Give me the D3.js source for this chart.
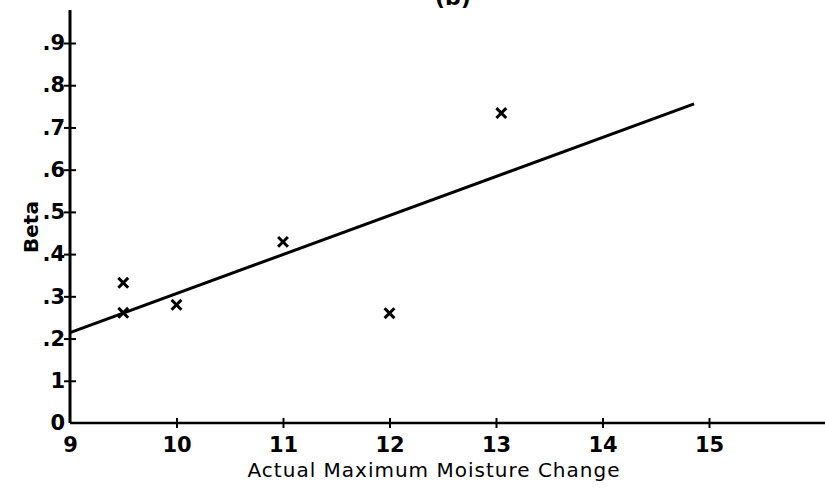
<!DOCTYPE html>
<html>
<head>
<meta charset="utf-8">
<script src="https://cdn.jsdelivr.net/npm/d3@7"></script>
<style>
  body { margin: 0; background: #fff; }
  svg { display: block; }
  text { font-family: "DejaVu Sans", sans-serif; fill: #000; }
</style>
</head>
<body>
<div id="graf"></div>
<script>
// Datos
moisture = [9.5, 9.5, 10.0, 11.0, 12.0, 13.05]
beta     = [0.332, 0.261, 0.28, 0.429, 0.26, 0.734]

// recta ajustada (extremos)
fitX = [9, 14.86]
fitY = [0.214, 0.756]

xTicks = [9, 10, 11, 12, 13, 14, 15]
yTicks = [0, 0.1, 0.2, 0.3, 0.4, 0.5, 0.6, 0.7, 0.8, 0.9]
yTickLabels = ['0', '1', '.2', '.3', '.4', '.5', '.6', '.7', '.8', '.9']

ancho_total = 825
alto_total = 497

svg = d3.select('#graf').append('svg')
        .attr('width', ancho_total)
        .attr('height', alto_total)

// -- Escaladores --
x = d3.scaleLinear().domain([9, 15]).range([70, 709])
y = d3.scaleLinear().domain([0, 0.9]).range([423, 43])

// -- Ejes --
xAxGroup = svg.append('g').attr('transform', `translate(0, ${y(0)})`)
xAxGroup.call(d3.axisBottom(x).tickValues(xTicks).tickSize(0).tickFormat(d3.format('d')))
xAxGroup.select('.domain').remove()
xAxGroup.append('line')
        .attr('x1', x(9)).attr('x2', ancho_total)
        .attr('stroke', '#000').attr('stroke-width', 2.5)
xAxGroup.selectAll('.tick line')
        .attr('y1', -5).attr('y2', 5)
        .attr('stroke', '#000').attr('stroke-width', 2)
xAxGroup.selectAll('.tick').filter(d => d === 9).select('line').remove()
xAxGroup.selectAll('.tick text')
        .attr('y', 14)
        .style('font-size', '21px')
        .style('font-weight', 'bold')
        .style('font-family', '"DejaVu Sans", sans-serif')

yAxGroup = svg.append('g').attr('transform', `translate(${x(9)}, 0)`)
yAxGroup.call(d3.axisLeft(y).tickValues(yTicks).tickSize(0)
        .tickFormat((d, i) => yTickLabels[i]))
yAxGroup.select('.domain').remove()
yAxGroup.append('line')
        .attr('y1', y(0)).attr('y2', 10)
        .attr('stroke', '#000').attr('stroke-width', 3)
yAxGroup.selectAll('.tick line')
        .attr('x1', -6).attr('x2', 6)
        .attr('stroke', '#000').attr('stroke-width', 2)
yAxGroup.selectAll('.tick').filter(d => d === 0).select('line').remove()
yAxGroup.selectAll('.tick text')
        .attr('x', -5)
        .style('font-size', '21px')
        .style('font-weight', 'bold')
        .style('font-family', '"DejaVu Sans", sans-serif')

// -- Titulos --
// el "(b)" queda cortado arriba, igual que en la figura original
svg.append('text')
   .attr('x', 453).attr('y', 5)
   .attr('text-anchor', 'middle')
   .style('font-size', '22px')
   .style('font-weight', 'bold')
   .text('(b)')

svg.append('text')
   .attr('x', 434).attr('y', 477)
   .attr('text-anchor', 'middle')
   .style('font-size', '20px')
   .style('letter-spacing', '1px')
   .text('Actual  Maximum  Moisture  Change')

svg.append('text')
   .attr('transform', 'translate(38, 227) rotate(-90)')
   .attr('text-anchor', 'middle')
   .style('font-size', '20px')
   .style('font-weight', 'bold')
   .text('Beta')

// -- Recta --
line = d3.line().x(d => x(d[0])).y(d => y(d[1]))
svg.append('path')
   .datum(d3.zip(fitX, fitY))
   .attr('d', line)
   .attr('fill', 'none')
   .attr('stroke', '#000')
   .attr('stroke-width', 3)

// -- Puntos --
puntos = d3.zip(moisture, beta)
svg.selectAll('.punto')
   .data(puntos)
   .enter()
   .append('path')
   .attr('class', 'punto')
   .attr('transform', d => `translate(${x(d[0])}, ${y(d[1])})`)
   .attr('d', d3.symbol().type(d3.symbolTimes).size(65))
   .attr('fill', 'none')
   .attr('stroke', '#000')
   .attr('stroke-width', 3)
</script>
</body>
</html>
